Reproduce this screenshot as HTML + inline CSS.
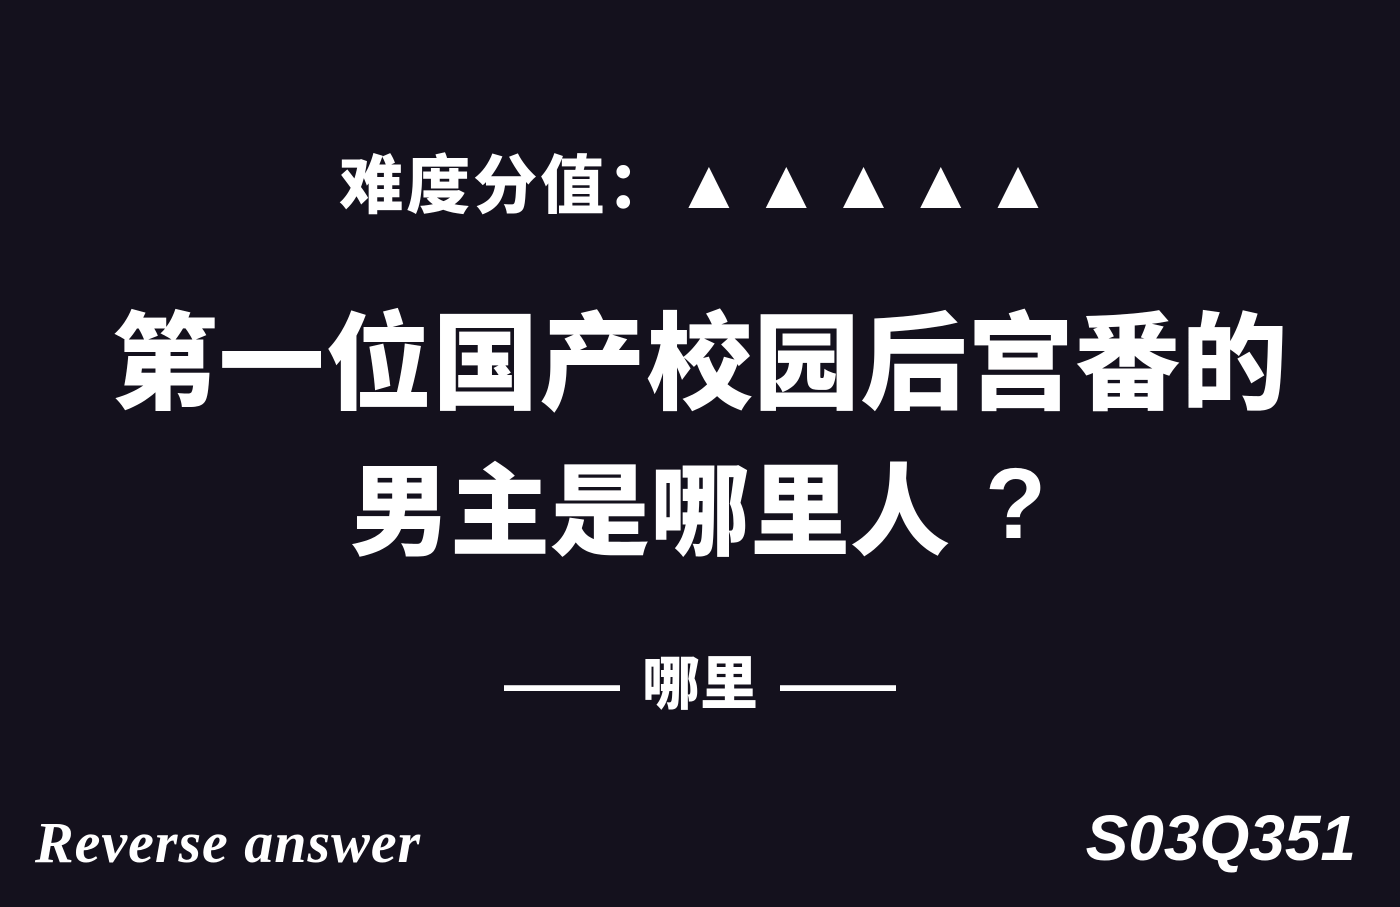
<!DOCTYPE html>
<html lang="zh">
<head>
<meta charset="utf-8">
<style>
  html,body{margin:0;padding:0;}
  body{width:1400px;height:907px;background:#14111d;overflow:hidden;position:relative;
       font-family:"Liberation Sans","Noto Sans CJK SC",sans-serif;color:#fff;}
  .line{position:absolute;left:0;width:1400px;text-align:center;white-space:nowrap;font-weight:900;}
  .tri{font-size:70px;letter-spacing:8px;}
</style>
</head>
<body>
  <div class="line"
       style="top:146px;font-size:64px;line-height:76px;letter-spacing:3px;">难度分值：<span class="tri">▲▲▲▲▲</span></div>
  <div class="line"
       style="top:305px;font-size:106px;line-height:120px;letter-spacing:1px;">第一位国产校园后宫番的</div>
  <div
       style="position:absolute;left:350px;top:444px;font-size:100px;line-height:120px;font-weight:900;white-space:nowrap;font-family:'Noto Sans CJK SC',sans-serif;">男主是哪里人</div>
  <div
       style="position:absolute;left:985px;top:444px;font-size:100px;line-height:120px;font-weight:900;font-family:'Liberation Sans',sans-serif;">?</div>
  <div class="line"
       style="top:650px;font-size:58px;line-height:70px;"><span style="margin-right:22px;">——</span>哪里<span style="margin-left:22px;">——</span></div>
  <div
       style="position:absolute;left:35px;top:807px;font-family:'Liberation Serif',serif;font-style:italic;font-weight:700;font-size:58px;line-height:72px;letter-spacing:1px;">Reverse answer</div>
  <div
       style="position:absolute;right:44px;top:800px;font-family:'Liberation Sans',sans-serif;font-style:italic;font-weight:700;font-size:64px;line-height:76px;">S03Q351</div>
</body>
</html>
